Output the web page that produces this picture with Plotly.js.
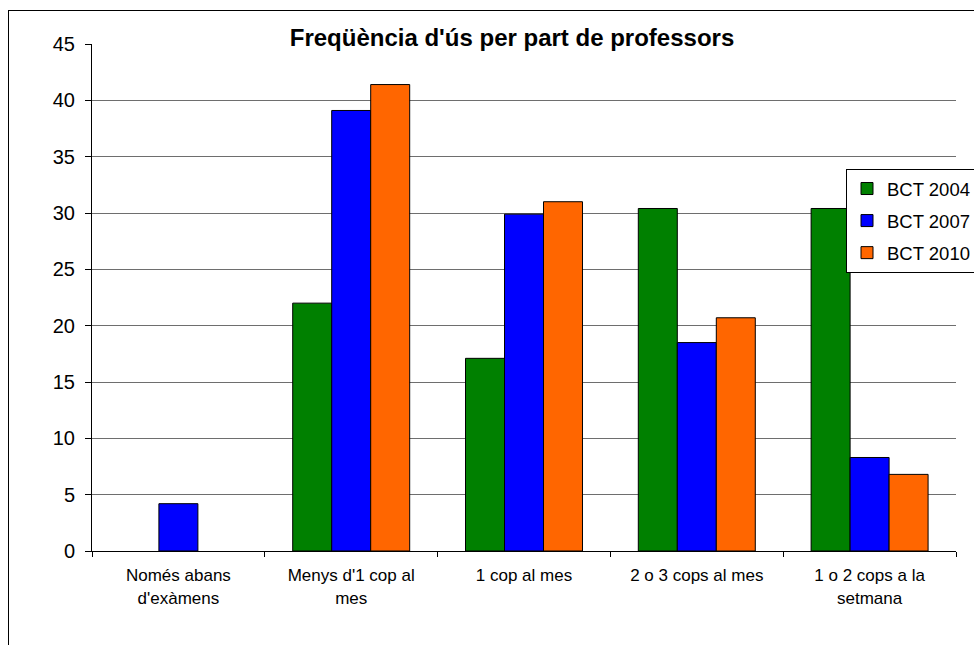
<!DOCTYPE html>
<html>
<head>
<meta charset="utf-8">
<script src="https://cdn.plot.ly/plotly-3.0.1.min.js"></script>
<style>
html,body{margin:0;padding:0;overflow:hidden;background:#fff;}
#wrap{position:relative;width:974px;height:645px;}
#chart{width:974px;height:645px;}
#frame{position:absolute;left:8px;top:10px;width:980px;height:650px;border-left:1px solid #000;border-top:1px solid #000;pointer-events:none;}
</style>
</head>
<body>
<div id="wrap"><div id="chart"></div><div id="frame"></div></div>
<script>
const categories = ["Només abans<br>d'exàmens", "Menys d'1 cop al<br>mes", "1 cop al mes", "2 o 3 cops al mes", "1 o 2 cops a la<br>setmana"];
const bct2004 = [null, 22.0, 17.1, 30.4, 30.4];
const bct2007 = [4.2, 39.1, 29.9, 18.5, 8.3];
const bct2010 = [null, 41.4, 31.0, 20.7, 6.8];
const seriesNames = ["BCT 2004", "BCT 2007", "BCT 2010"];
const seriesColors = ["#008000", "#0000FF", "#FF6600"];
const yTicks = [0, 5, 10, 15, 20, 25, 30, 35, 40, 45];

const FONT = "Liberation Sans, Arial, sans-serif";
const allSeries = [bct2004, bct2007, bct2010];
const traces = allSeries.map((vals, i) => ({
  type: "bar",
  name: seriesNames[i],
  x: categories,
  y: vals,
  legendgroup: "g" + i,
  marker: {color: seriesColors[i], line: {color: "#000", width: 1}},
  hoverinfo: "x+y+name"
}));

const L = 92, R = 956, T = 44, B = 551;
const layout = {
  width: 974, height: 645,
  margin: {l: L, r: 974 - R, t: T, b: 645 - B, autoexpand: false},
  paper_bgcolor: "#fff", plot_bgcolor: "#fff",
  font: {family: FONT, color: "#000"},
  barmode: "group", bargap: 0.323, bargroupgap: 0,
  title: {
    text: "<b>Freqüència d'ús per part de professors</b>",
    font: {family: FONT, size: 24, color: "#000"},
    xref: "container", x: 512/974, xanchor: "center",
    yref: "container", y: 1 - 38/645, yanchor: "middle"
  },
  xaxis: {
    type: "category",
    tickson: "boundaries",
    ticks: "outside", ticklen: 5, tickcolor: "#000", tickwidth: 1,
    showline: true, linecolor: "#000", linewidth: 1,
    showgrid: false, zeroline: false,
    tickfont: {family: FONT, size: 17, color: "#000"},
    ticklabelstandoff: 9,
    automargin: false
  },
  yaxis: {
    range: [0, 45],
    tickvals: yTicks,
    ticktext: yTicks.map(String),
    ticks: "outside", ticklen: 6, tickcolor: "#000", tickwidth: 1,
    showline: true, linecolor: "#000", linewidth: 1,
    showgrid: true, gridcolor: "#6e6e6e", gridwidth: 1,
    zeroline: false,
    tickfont: {family: FONT, size: 20, color: "#000"},
    ticklabelstandoff: 6,
    automargin: false
  },
  legend: {
    x: (846 - L) / (R - L), xref: "paper", xanchor: "left",
    y: (B - 169) / (B - T), yref: "paper", yanchor: "top",
    bgcolor: "#fff", bordercolor: "#000", borderwidth: 1,
    font: {family: FONT, size: 18.5, color: "#000"},
    traceorder: "grouped", tracegroupgap: 5,
    itemwidth: 30
  },
  showlegend: true
};

Plotly.newPlot("chart", traces, layout, {displayModeBar: false, staticPlot: true});
</script>
</body>
</html>
